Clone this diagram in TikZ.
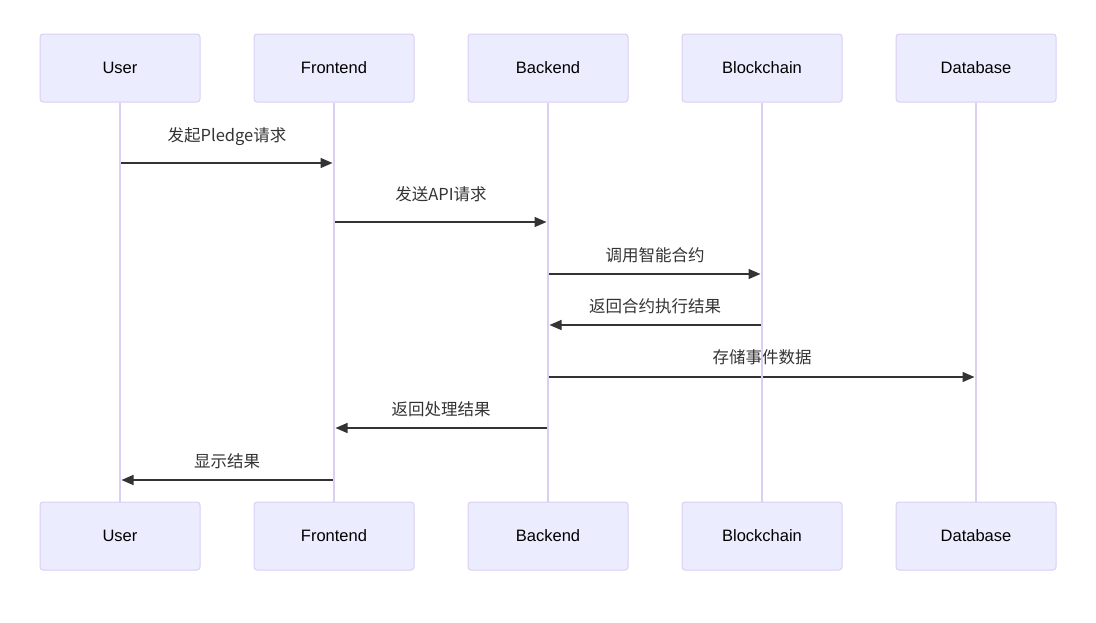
\documentclass[tikz,border=0pt]{standalone}
\usepackage{fontspec}
\setmainfont{Liberation Sans}
\newfontfamily\cjk{Noto Sans CJK SC}
\usetikzlibrary{positioning}
\usetikzlibrary{arrows.meta}

\definecolor{actorfill}{HTML}{ECECFF}
\definecolor{actorline}{HTML}{DACEF2}
\definecolor{msgline}{HTML}{333333}

\begin{document}
\begin{tikzpicture}[x=1pt,y=-1pt,
    actor/.style={draw=actorline, fill=actorfill, rounded corners=3pt, line width=1pt,
      minimum width=160pt, minimum height=68pt, inner sep=0pt,
      font=\fontsize{16.5}{19}\selectfont},
    msg/.style={draw=msgline, line width=1.5pt, shorten >=1.5pt,
      -{Triangle[length=12pt,width=10pt]}},
    msglabel/.style={font=\cjk\fontsize{16.5}{19}\selectfont, text=msgline,
      inner sep=0pt, anchor=base}]
        \useasboundingbox (0,0) rectangle (1096,622);

        % Actors, top and bottom
        \foreach \name/\x in {User/120, Frontend/334, Backend/548, Blockchain/762, Database/976} {
          \node[actor] (\name-top) at (\x,68) {\name};
          \node[actor] (\name-bot) at (\x,536) {\name};
        }

        % Messages
        \foreach \n/\from/\to/\y/\up/\txt in {
            1/User/Frontend/163/22/发起Pledge请求,
            2/Frontend/Backend/222/22/发送API请求,
            3/Backend/Blockchain/274/13/调用智能合约,
            4/Blockchain/Backend/325/13/返回合约执行结果,
            5/Backend/Database/377/14/存储事件数据,
            6/Backend/Frontend/428/13/返回处理结果,
            7/Frontend/User/480/13/显示结果} {
          \coordinate (row\n) at (0,\y);
          \draw[msg] (\from-top |- row\n) -- node[msglabel, midway, yshift=\up pt] (label\n) {\txt} (\to-top |- row\n);
        }

        % Lifelines
        \foreach \name in {User, Frontend, Backend, Blockchain, Database}
          \draw[actorline, line width=1.5pt] (\name-top) -- (\name-bot);
\end{tikzpicture}
\end{document}
